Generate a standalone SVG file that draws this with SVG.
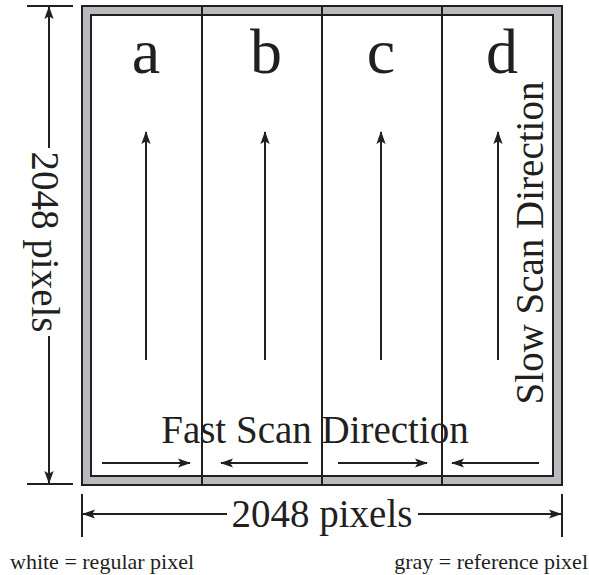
<svg xmlns="http://www.w3.org/2000/svg" width="589" height="575" viewBox="0 0 589 575">
<defs>
<style>
.ln{stroke:#231f20;stroke-width:2;fill:none}
.t{font-family:"Liberation Serif","Times New Roman",serif;fill:#231f20}
</style>
<marker id="ah" viewBox="0 0 14 10" refX="13" refY="5" markerWidth="13" markerHeight="10" markerUnits="userSpaceOnUse" orient="auto">
<path d="M0,0 L14,5 L0,10 L3,5 z" fill="#231f20"/>
</marker>
</defs>
<rect width="589" height="575" fill="#fff"/>
<g id="frame">
<rect x="82" y="6" width="480" height="479" fill="#b9babd" stroke="#231f20" stroke-width="2"/>
<rect x="91" y="15" width="462" height="461" fill="#fff" stroke="#231f20" stroke-width="2"/>
</g>
<g id="dividers">
<line class="ln" x1="202" y1="6" x2="202" y2="485"/>
<line class="ln" x1="322" y1="6" x2="322" y2="485"/>
<line class="ln" x1="442" y1="6" x2="442" y2="485"/>
</g>
<g id="col-a"><text class="t" x="146" y="73" font-size="64" text-anchor="middle">a</text></g>
<g id="col-b"><text class="t" x="266" y="73" font-size="64" text-anchor="middle">b</text></g>
<g id="col-c"><text class="t" x="381" y="73" font-size="64" text-anchor="middle">c</text></g>
<g id="col-d"><text class="t" x="502" y="73" font-size="64" text-anchor="middle">d</text></g>
<g id="connectors">
<line class="ln" x1="146" y1="360" x2="146" y2="132" marker-end="url(#ah)"/>
<line class="ln" x1="265" y1="360" x2="265" y2="132" marker-end="url(#ah)"/>
<line class="ln" x1="381" y1="360" x2="381" y2="132" marker-end="url(#ah)"/>
<line class="ln" x1="498" y1="360" x2="498" y2="132" marker-end="url(#ah)"/>
<line class="ln" x1="102" y1="463" x2="190" y2="463" marker-end="url(#ah)"/>
<line class="ln" x1="308" y1="463" x2="221" y2="463" marker-end="url(#ah)"/>
<line class="ln" x1="338" y1="463" x2="427" y2="463" marker-end="url(#ah)"/>
<line class="ln" x1="539" y1="463" x2="452" y2="463" marker-end="url(#ah)"/>
</g>
<g id="fast-label"><text class="t" x="315" y="443" font-size="39" text-anchor="middle">Fast Scan Direction</text></g>
<g id="slow-label"><text class="t" transform="translate(543,243) rotate(-90)" font-size="39" text-anchor="middle">Slow Scan Direction</text></g>
<g id="dim-vertical">
<line class="ln" x1="27" y1="6" x2="73" y2="6"/>
<line class="ln" x1="27" y1="484" x2="73" y2="484"/>
<line class="ln" x1="49" y1="148" x2="49" y2="7" marker-end="url(#ah)"/>
<line class="ln" x1="49" y1="336" x2="49" y2="483" marker-end="url(#ah)"/>
<text class="t" transform="translate(32,242) rotate(90)" font-size="39" text-anchor="middle">2048 pixels</text>
</g>
<g id="dim-horizontal">
<line class="ln" x1="82" y1="494" x2="82" y2="537"/>
<line class="ln" x1="562" y1="494" x2="562" y2="537"/>
<line class="ln" x1="227" y1="514" x2="83" y2="514" marker-end="url(#ah)"/>
<line class="ln" x1="418" y1="514" x2="561" y2="514" marker-end="url(#ah)"/>
<text class="t" x="322" y="527" font-size="39" text-anchor="middle">2048 pixels</text>
</g>
<g id="legend">
<text class="t" x="10" y="569" font-size="22">white = regular pixel</text>
<text class="t" x="588" y="569" font-size="22" text-anchor="end">gray = reference pixel</text>
</g>
</svg>
